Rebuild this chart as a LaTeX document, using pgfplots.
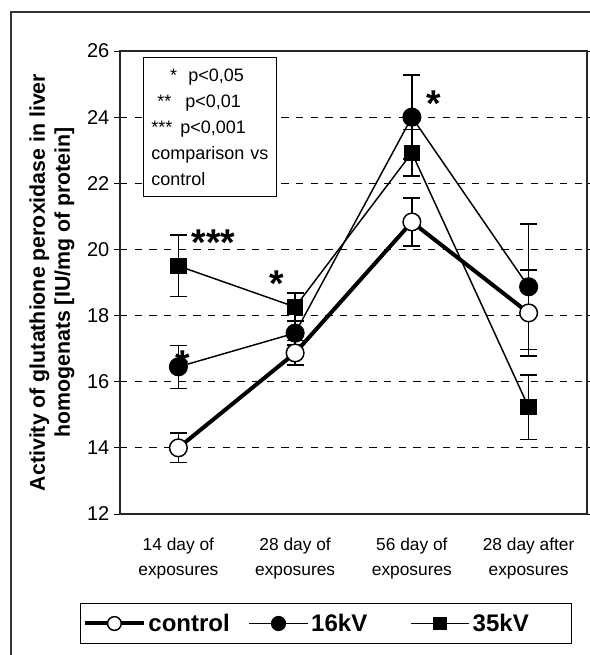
\documentclass[border=0pt]{standalone}
\usepackage{fontspec}
\setmainfont{Liberation Sans}
\usepackage{pgfplots}
\pgfplotsset{compat=1.18}
\begin{document}
\begin{tikzpicture}[x=1pt,y=1pt]
\path[use as bounding box] (0,0) rectangle (441.75,491.25);
\draw[line width=0.8pt, black!80] (8.25,-5) -- (8.25,482.25) -- (450,482.25);
\begin{axis}[
  at={(90pt,105.75pt)}, anchor=south west, scale only axis,
  width=350.25pt, height=347.25pt,
  xmin=-0.5, xmax=3.5, ymin=12, ymax=26,
  ytick={12,14,...,26},
  xtick={0,1,2,3},
  xticklabels={{14 day of\\exposures},{28 day of\\exposures},{56 day of\\exposures},{28 day after\\exposures}},
  xticklabel style={align=center, font=\fontsize{13}{18.75}\selectfont, yshift=-10pt},
  yticklabel style={font=\fontsize{15}{18}\selectfont},
  /pgf/number format/assume math mode=true,
  x tick style={draw=none},
  tick align=outside, major tick length=4.5pt,
  y tick style={black, line width=0.6pt},
  ymajorgrids,
  major grid style={black, line width=0.6pt, dash pattern=on 5.5pt off 5.5pt},
  axis line style={black!85, line width=1.3pt},
  ylabel={Activity of glutathione peroxidase in liver\\homogenats [IU/mg of protein]},
  ylabel style={at={(axis description cs:-0.146,0.5)}, anchor=center, align=center, font=\bfseries\fontsize{16}{18.75}\selectfont},
  clip=false,
  legend columns=3,
  legend style={at={(axis description cs:0.441,-0.2365)}, anchor=center, draw=black, line width=0.8pt,
    font=\bfseries\fontsize{18}{21}\selectfont, inner xsep=2pt, inner ysep=6pt,
    /tikz/column 2/.style={column sep=12pt},
    /tikz/column 4/.style={column sep=30pt}},
  legend image code/.code={\draw[mark repeat=2,mark phase=2,/tikz/every mark/.append style={scale=0.78}] plot coordinates {(0pt,0pt)(22pt,0pt)(44pt,0pt)};},
]
% control
\addplot[black, line width=3pt, mark=*, mark size=6.6pt, mark options={fill=white, line width=1.1pt, solid},
  error bars/.cd, y dir=both, y explicit, error bar style={line width=1.1pt},
  error mark options={rotate=90, mark size=6.4pt, line width=1.1pt}]
  coordinates {(0,14.0) +- (0,0.45) (1,16.87) +- (0,0.37) (2,20.83) +- (0,0.72) (3,18.08) +- (0,1.3)};
\addlegendentry{control}
\node[font=\bfseries\fontsize{28}{28}\selectfont] at (axis cs:0.04,16.55) {*};
% 16kV
\addplot[black, line width=1.1pt, mark=*, mark size=6.6pt, mark options={fill=black, solid},
  error bars/.cd, y dir=both, y explicit, error bar style={line width=1.1pt},
  error mark options={rotate=90, mark size=6.4pt, line width=1.1pt}]
  coordinates {(0,16.45) +- (0,0.65) (1,17.47) +- (0,0.36) (2,24.0) +- (0,1.27) (3,18.87) +- (0,1.9)};
\addlegendentry{16kV}
% 35kV
\addplot[black, line width=1.1pt, mark=square*, mark size=5.6pt, mark options={fill=black, solid},
  error bars/.cd, y dir=both, y explicit, error bar style={line width=1.1pt},
  error mark options={rotate=90, mark size=6.4pt, line width=1.1pt}]
  coordinates {(0,19.5) +- (0,0.93) (1,18.26) +- (0,0.42) (2,22.92) +- (0,0.7) (3,15.23) +- (0,0.97)};
\addlegendentry{35kV\hspace*{28pt}}
\node[font=\bfseries\fontsize{28}{28}\selectfont] at (axis cs:0.30,20.2) {***};
\node[font=\bfseries\fontsize{28}{28}\selectfont] at (axis cs:0.84,18.95) {*};
\node[font=\bfseries\fontsize{28}{28}\selectfont] at (axis cs:2.19,24.4) {*};
\node[draw=black, fill=white, line width=0.8pt, anchor=north west, align=left, text width=88pt,
  minimum height=104pt, inner sep=6pt, font=\fontsize{13.5}{19.5}\selectfont]
  at (axis description cs:0.049,0.987)
  {\makebox[27.75pt][l]{\hspace*{14pt}*}p<0,05\\
   \makebox[25.5pt][l]{\hspace*{4.5pt}**}p<0,01\\
   \makebox[21.75pt][l]{***}p<0,001\\
   comparison vs\\
   control};
\end{axis}
\end{tikzpicture}
\end{document}
